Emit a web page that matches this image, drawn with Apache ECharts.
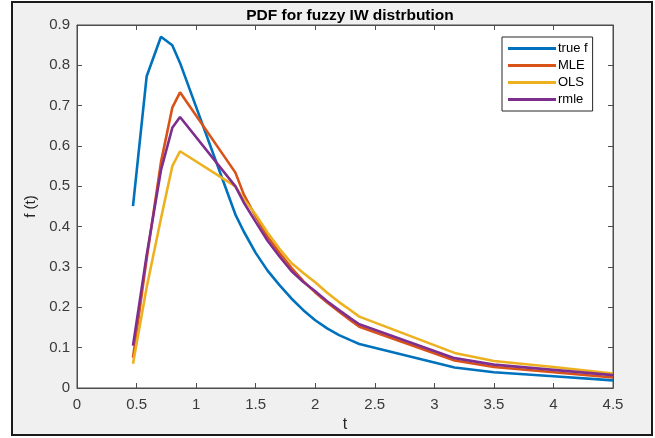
<!DOCTYPE html>
<html>
<head>
<meta charset="utf-8">
<script src="https://cdn.jsdelivr.net/npm/echarts@6/dist/echarts.min.js"></script>
<style>html,body{margin:0;padding:0;background:#fff}#c{width:655px;height:438px}</style>
</head>
<body>
<div id="c"></div>
<script>
var tValues = [0.47, 0.585, 0.705, 0.80, 0.865, 1.33, 1.4, 1.5, 1.6, 1.7, 1.8, 1.9, 2.0, 2.1, 2.2, 2.3, 2.37, 3.17, 3.5, 4.0, 4.5];
var trueF = [0.451, 0.773, 0.871, 0.85, 0.806, 0.43, 0.388, 0.335, 0.291, 0.255, 0.222, 0.193, 0.168, 0.148, 0.131, 0.118, 0.109, 0.051, 0.039, 0.029, 0.019];
var mle   = [0.075, 0.32, 0.56, 0.695, 0.733, 0.534, 0.48, 0.425, 0.375, 0.335, 0.298, 0.265, 0.237, 0.212, 0.189, 0.167, 0.152, 0.068, 0.052, 0.039, 0.026];
var ols   = [0.06, 0.25, 0.42, 0.55, 0.587, 0.50, 0.468, 0.43, 0.385, 0.345, 0.31, 0.285, 0.262, 0.236, 0.213, 0.192, 0.177, 0.087, 0.067, 0.052, 0.036];
var rmle  = [0.105, 0.33, 0.54, 0.645, 0.672, 0.50, 0.46, 0.412, 0.365, 0.326, 0.29, 0.263, 0.24, 0.215, 0.193, 0.172, 0.158, 0.074, 0.058, 0.045, 0.032];
var seriesNames = ['true f', 'MLE', 'OLS', 'rmle'];
var seriesColors = ['#0072BD', '#D95319', '#EDB120', '#7E2F8E'];
var xTicks = {min: 0, max: 4.5, interval: 0.5};
var yTicks = {min: 0, max: 0.9, interval: 0.1};

function pairs(ys) { return tValues.map(function (t, i) { return [t, ys[i]]; }); }
var allY = [trueF, mle, ols, rmle];

var axisColor = '#4d4d4d';
var font = 'Liberation Sans, Arial, Helvetica, sans-serif';
function mkX(pos, showLabel) {
  return {
    type: 'value', position: pos, min: xTicks.min, max: xTicks.max, interval: xTicks.interval,
    name: showLabel ? 't' : '', nameLocation: 'middle', nameGap: 29,
    nameTextStyle: {color: '#262626', fontSize: 16, fontFamily: font},
    axisLine: {show: true, onZero: false, lineStyle: {color: axisColor, width: 1}},
    axisTick: {show: true, inside: true, length: 5, lineStyle: {color: axisColor}},
    axisLabel: {show: showLabel, color: '#3a3a3a', fontSize: 15, fontFamily: font, margin: 9},
    splitLine: {show: false}
  };
}
function mkY(pos, showLabel) {
  return {
    type: 'value', position: pos, min: yTicks.min, max: yTicks.max, interval: yTicks.interval,
    name: showLabel ? 'f (t)' : '', nameLocation: 'middle', nameGap: 38, nameRotate: 90,
    nameTextStyle: {color: '#262626', fontSize: 15, fontFamily: font},
    axisLine: {show: true, onZero: false, lineStyle: {color: axisColor, width: 1}},
    axisTick: {show: true, inside: true, length: 5, lineStyle: {color: axisColor}},
    axisLabel: {show: showLabel, color: '#3a3a3a', fontSize: 15, fontFamily: font, margin: 7},
    splitLine: {show: false}
  };
}

var chart = echarts.init(document.getElementById('c'), null, {renderer: 'canvas'});
chart.setOption({
  animation: false,
  backgroundColor: '#fff',
  graphic: [{
    type: 'rect', z: -10, silent: true,
    shape: {x: 12, y: 2, width: 640, height: 433},
    style: {fill: '#f0f0f0', stroke: '#1a1a1a', lineWidth: 2}
  }],
  title: {
    text: 'PDF for fuzzy IW distrbution', left: 345, top: 3, textAlign: 'center',
    textStyle: {fontSize: 15.5, fontWeight: 'bold', color: '#000', fontFamily: font}
  },
  grid: {left: 77, right: 42, top: 25, bottom: 49, show: true, backgroundColor: '#fff', borderColor: axisColor, borderWidth: 1},
  xAxis: [mkX('bottom', true), mkX('top', false)],
  yAxis: [mkY('left', true), mkY('right', false)],
  legend: {
    orient: 'vertical', left: 502, top: 37,
    backgroundColor: '#fff', borderColor: '#262626', borderWidth: 1,
    padding: [5, 5, 5, 6], itemGap: 4, itemWidth: 48, itemHeight: 3,
    icon: 'rect',
    textStyle: {fontSize: 13, color: '#000', fontFamily: font, padding: [0, 0, 0, -3]},
    data: seriesNames
  },
  series: seriesNames.map(function (n, i) {
    return {
      name: n, type: 'line', data: pairs(allY[i]), symbol: 'none', smooth: false,
      itemStyle: {color: seriesColors[i]},
      lineStyle: {color: seriesColors[i], width: 2.6}
    };
  })
});
</script>
</body>
</html>
